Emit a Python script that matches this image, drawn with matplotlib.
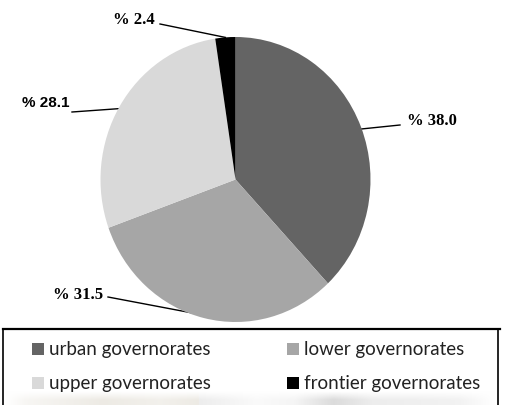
import numpy as np
import matplotlib.pyplot as plt

# data
categories = ['urban governorates', 'lower governorates', 'upper governorates', 'frontier governorates']
shares = [38.0, 31.5, 28.1, 2.4]
colors = ['#646464', '#a6a6a6', '#d9d9d9', '#000000']

W, H = 507, 405
fig = plt.figure(figsize=(W / 100, H / 100), dpi=100)

# overlay axes in pixel coordinates
ov = fig.add_axes([0, 0, 1, 1])
ov.set_xlim(0, W)
ov.set_ylim(H, 0)
ov.axis('off')

# faint smudge at the very bottom (scan artefact)
xs = np.linspace(0, W, W)
anchor_x = [0, 20, 100, 160, 200, 260, 300, 340, 380, 470, 507]
anchor_v = [1.0, 0.97, 0.93, 0.95, 0.93, 0.98, 0.96, 0.86, 0.93, 0.95, 1.0]
val = np.interp(xs, anchor_x, anchor_v)
rows = np.linspace(0, 1, 14)[:, None]
shade = 1 - (1 - val[None, :]) * np.clip(rows * 1.6, 0, 1)
img = np.dstack([shade, shade - (1 - shade) * 0.15 * (xs < 200), shade - (1 - shade) * 0.5 * (xs < 200)])
ov.imshow(np.clip(img, 0, 1), extent=(6, 495, 405, 391), aspect='auto', zorder=0, interpolation='bilinear')
ov.set_xlim(0, W)
ov.set_ylim(H, 0)

# pie (slightly stretched vertically, like the reference)
cx, cy, rx, ry = 235.5, 179.5, 135, 142.5
axp = fig.add_axes([(cx - rx) / W, (H - cy - ry) / H, 2 * rx / W, 2 * ry / H])
wedges, _ = axp.pie(shares, colors=colors, startangle=90, counterclock=False,
                    wedgeprops=dict(linewidth=0))
axp.set_xlim(-1, 1)
axp.set_ylim(-1, 1)
axp.set_aspect('auto')
axp.axis('off')

# label placement (text anchor, ha, font, line end)
lab_pos = [(407, 121, 'left', 'Liberation Serif', 400, 125),
           (103, 295, 'right', 'Liberation Serif', 108, 297),
           (69, 103, 'right', 'Liberation Sans', 72, 112),
           (155, 20, 'right', 'Liberation Serif', 160, 24)]
rr = [0.95, 0.98, 0.975, 1.0]
for w, s, p, r in zip(wedges, shares, lab_pos, rr):
    a = np.deg2rad((w.theta1 + w.theta2) / 2)
    px = cx + r * rx * np.cos(a)
    py = cy - r * ry * np.sin(a)
    ov.plot([px, p[4]], [py, p[5]], color='black', lw=1.0, zorder=5)
    fs = 12 if p[3] == 'Liberation Serif' else 11
    ov.text(p[0], p[1], '%% %.1f' % s, ha=p[2], va='center', fontsize=fs,
            fontweight='bold', family=p[3])

# legend box
ov.plot([3, 500], [329, 329], color='black', lw=1.6)
ov.plot([3, 3], [329, H], color='black', lw=1.2)
ov.plot([498, 498], [329, H], color='black', lw=1.2)

leg_x = [32, 287, 32, 287]
leg_y = [349, 349, 383, 383]
for lab, c, x, y in zip(categories, colors, leg_x, leg_y):
    ov.add_patch(plt.Rectangle((x, y - 6), 12, 12, color=c, lw=0))
    ov.text(x + 17, y, lab, ha='left', va='center', fontsize=13.5, family='Lato',
            color='#222222')

fig.savefig('out.png', dpi=100)
